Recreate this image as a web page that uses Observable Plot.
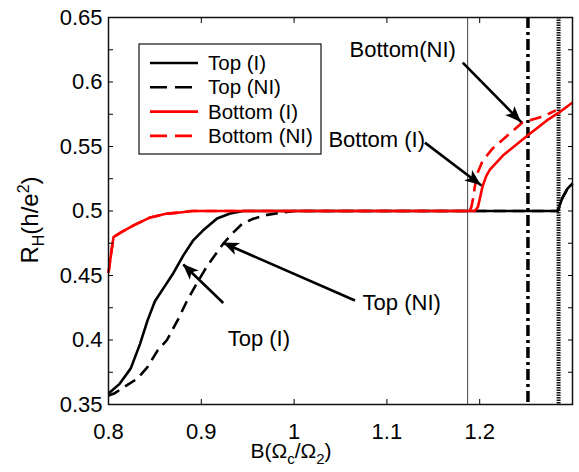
<!DOCTYPE html>
<html><head><meta charset="utf-8">
<script src="https://cdn.jsdelivr.net/npm/d3@7"></script>
<script src="https://cdn.jsdelivr.net/npm/@observablehq/plot@0.6"></script>
<style>html,body{margin:0;padding:0;background:#fff;}</style>
</head><body><div id="chart"></div>
<script>
// ---- axis ticks ----
const xTickLabels = [0.8, 0.9, 1.0, 1.1, 1.2];
const xTickMarks = [0.9, 1.0, 1.1, 1.2];
const yTickLabels = [0.35, 0.4, 0.45, 0.5, 0.55, 0.6, 0.65];
const yTickMarks = [0.375, 0.4, 0.425, 0.45, 0.475, 0.5, 0.525, 0.55, 0.575, 0.6, 0.625];

// ---- series ----
const seriesNames = ["Top (I)", "Top (NI)", "Bottom (I)", "Bottom (NI)"];

const topI_B  = [0.800, 0.812, 0.824, 0.834, 0.842, 0.850, 0.860, 0.870, 0.881, 0.891, 0.902, 0.917, 0.931, 0.945, 1.284, 1.289, 1.2946, 1.300];
const topI_RH = [0.3585, 0.366, 0.378, 0.397, 0.415, 0.430, 0.441, 0.452, 0.466, 0.477, 0.485, 0.4942, 0.498, 0.500, 0.500, 0.510, 0.5174, 0.5213];

const topNI_B  = [0.800, 0.806, 0.820, 0.831, 0.842, 0.853, 0.863, 0.875, 0.885, 0.896, 0.906, 0.915, 0.924, 0.934, 0.944, 0.956, 0.971, 0.985, 1.000, 1.284, 1.289, 1.2946, 1.300];
const topNI_RH = [0.357, 0.3585, 0.365, 0.370, 0.379, 0.392, 0.400, 0.416, 0.431, 0.445, 0.457, 0.466, 0.475, 0.483, 0.490, 0.494, 0.497, 0.4985, 0.500, 0.500, 0.510, 0.5174, 0.5213];

const botI_B  = [0.800, 0.803, 0.8054, 0.813, 0.827, 0.845, 0.863, 0.877, 0.890, 1.1946, 1.198, 1.200, 1.203, 1.207, 1.211, 1.225, 1.2516, 1.272, 1.286, 1.300];
const botI_RH = [0.452, 0.468, 0.4798, 0.4833, 0.4888, 0.495, 0.498, 0.4988, 0.500, 0.500, 0.503, 0.509, 0.519, 0.527, 0.532, 0.543, 0.5585, 0.570, 0.5766, 0.5841];

const botNI_B  = [0.800, 0.803, 0.8054, 0.813, 0.827, 0.845, 0.863, 0.877, 0.890, 1.189, 1.191, 1.193, 1.1946, 1.198, 1.2032, 1.214, 1.2323, 1.246, 1.2645, 1.275, 1.282];
const botNI_RH = [0.452, 0.468, 0.4798, 0.4833, 0.4888, 0.495, 0.498, 0.4988, 0.500, 0.500, 0.503, 0.510, 0.5184, 0.530, 0.539, 0.5485, 0.560, 0.5686, 0.5725, 0.5756, 0.578];

// vertical reference lines (B values)
const refLineB = [1.187, 1.252, 1.285];

// annotations
const annoLabels = ["Bottom(NI)", "Bottom (I)", "Top (I)", "Top (NI)"];
const annoTextB  = [1.117, 1.089, 0.962, 1.116];
const annoTextRH = [0.625, 0.5547, 0.401, 0.429];
const arrowFromB  = [1.1817, 1.1409, 0.9237, 1.0656];
const arrowFromRH = [0.615, 0.553, 0.4287, 0.4306];
const arrowToB    = [1.2450, 1.2018, 0.8806, 0.9237];
const arrowToRH   = [0.5687, 0.5198, 0.4585, 0.4752];

// ---- build tables ----
const seriesArrays = [[topI_B, topI_RH], [topNI_B, topNI_RH], [botI_B, botI_RH], [botNI_B, botNI_RH]];
const rows = [];
seriesArrays.forEach(([bs, rs], k) => bs.forEach((b, i) => rows.push({series: seriesNames[k], B: b, RH: rs[i]})));
const annos = annoLabels.map((t, i) => ({t, x: annoTextB[i], y: annoTextRH[i], x1: arrowFromB[i], y1: arrowFromRH[i], x2: arrowToB[i], y2: arrowToRH[i]}));

const seriesStyle = {
  "Top (I)":     {stroke: "#000", dash: null},
  "Top (NI)":    {stroke: "#000", dash: "12,7"},
  "Bottom (I)":  {stroke: "#ff0000", dash: null},
  "Bottom (NI)": {stroke: "#ff0000", dash: "12,7"}
};
const fmt = d => String(+d.toFixed(3));

const lineMarks = seriesNames.map(name => Plot.line(rows.filter(r => r.series === name), {
  x: "B", y: "RH", stroke: seriesStyle[name].stroke, strokeWidth: 2.6,
  strokeDasharray: seriesStyle[name].dash, strokeLinejoin: "round", strokeLinecap: "butt"
}));

const chart = Plot.plot({
  width: 579, height: 472,
  marginLeft: 108, marginRight: 7, marginTop: 17, marginBottom: 68,
  style: {fontFamily: "'Liberation Sans', Arial, Helvetica, sans-serif", fontSize: "22px", color: "#000", background: "#fff"},
  x: {domain: [0.8, 1.3]},
  y: {domain: [0.35, 0.65]},
  marks: [
    Plot.ruleX([refLineB[0]], {stroke: "#444", strokeWidth: 1}),
    Plot.ruleX([refLineB[1]], {stroke: "#000", strokeWidth: 3.5, strokeDasharray: "11,4,3,4"}),
    Plot.ruleX([refLineB[2]], {stroke: "#111", strokeWidth: 4, strokeDasharray: "1.6,0.9"}),
    ...lineMarks,
    Plot.frame({stroke: "#111", strokeWidth: 1.5}),
    // labels
    Plot.axisX({anchor: "bottom", ticks: xTickLabels, tickSize: 0, tickPadding: 19, tickFormat: fmt, label: null}),
    Plot.axisY({anchor: "left", ticks: yTickLabels, tickSize: 0, tickPadding: 6, tickFormat: fmt, label: null}),
    // inward tick marks
    Plot.axisX({anchor: "bottom", ticks: xTickMarks, tickSize: 5, dy: -5, fill: "none", label: null}),
    Plot.axisX({anchor: "top", ticks: xTickMarks, tickSize: 5, dy: 5, fill: "none", label: null}),
    Plot.axisY({anchor: "left", ticks: yTickMarks, tickSize: 5, dx: 5, fill: "none", label: null}),
    Plot.axisY({anchor: "right", ticks: yTickMarks, tickSize: 5, dx: -5, fill: "none", label: null}),
    // annotations (shafts; filled heads added below)
    Plot.link(annos, {x1: "x1", y1: "y1", x2: "x2", y2: "y2", stroke: "#000", strokeWidth: 2.6}),
    Plot.text(annos, {x: "x", y: "y", text: "t", fontSize: 22, fill: "#000"})
  ]
});

const svg = d3.select(chart);
const sx = chart.scale("x"), sy = chart.scale("y");

// filled arrowheads at arrow tips, positioned through the plot's scales
const heads = svg.append("g").attr("fill", "#000");
annos.forEach(a => {
  const px1 = sx.apply(a.x1), py1 = sy.apply(a.y1);
  const px2 = sx.apply(a.x2), py2 = sy.apply(a.y2);
  const ang = Math.atan2(py2 - py1, px2 - px1);
  const L = 16, W = 6.5, N = 4;
  const ux = Math.cos(ang), uy = Math.sin(ang), nx = -uy, ny = ux;
  const pts = [
    [px2, py2],
    [px2 - L * ux + W * nx, py2 - L * uy + W * ny],
    [px2 - (L - N) * ux, py2 - (L - N) * uy],
    [px2 - L * ux - W * nx, py2 - L * uy - W * ny]
  ];
  heads.append("path").attr("d", "M" + pts.map(p => p.join(",")).join("L") + "Z");
});

// y axis label R_H(h/e^2)
const yl = svg.append("text").attr("transform", "translate(38,220) rotate(-90)")
  .attr("text-anchor", "middle").attr("fill", "#000").style("font-size", "24px");
yl.append("tspan").text("R");
yl.append("tspan").attr("dy", 6).style("font-size", "16px").text("H");
yl.append("tspan").attr("dy", -6).text("(h/e");
yl.append("tspan").attr("dy", -9).style("font-size", "16px").text("2");
yl.append("tspan").attr("dy", 9).text(")");

// x axis label B(Ω_c/Ω_2)
const xl = svg.append("text").attr("x", 291).attr("y", 458)
  .attr("text-anchor", "middle").attr("fill", "#000").style("font-size", "21px");
xl.append("tspan").text("B(Ω");
xl.append("tspan").attr("dy", 6).style("font-size", "15px").text("c");
xl.append("tspan").attr("dy", -6).text("/Ω");
xl.append("tspan").attr("dy", 6).style("font-size", "15px").text("2");
xl.append("tspan").attr("dy", -6).text(")");

// legend
const lg = svg.append("g").attr("text-anchor", "start");
lg.append("rect").attr("x", 139).attr("y", 44).attr("width", 182).attr("height", 110)
  .attr("fill", "#fff").attr("stroke", "#111").attr("stroke-width", 1.2);
seriesNames.forEach((name, i) => {
  const y = 63 + i * 24.3;
  lg.append("line").attr("x1", 150).attr("x2", 198).attr("y1", y).attr("y2", y)
    .attr("stroke", seriesStyle[name].stroke).attr("stroke-width", 2.6)
    .attr("stroke-dasharray", seriesStyle[name].dash ? "17,8" : null);
  lg.append("text").attr("x", 208).attr("y", y).attr("dy", "0.35em").attr("text-anchor", "start")
    .attr("fill", "#000").style("font-size", "20.5px").text(name);
});

document.getElementById("chart").appendChild(chart);
</script>
</body></html>
